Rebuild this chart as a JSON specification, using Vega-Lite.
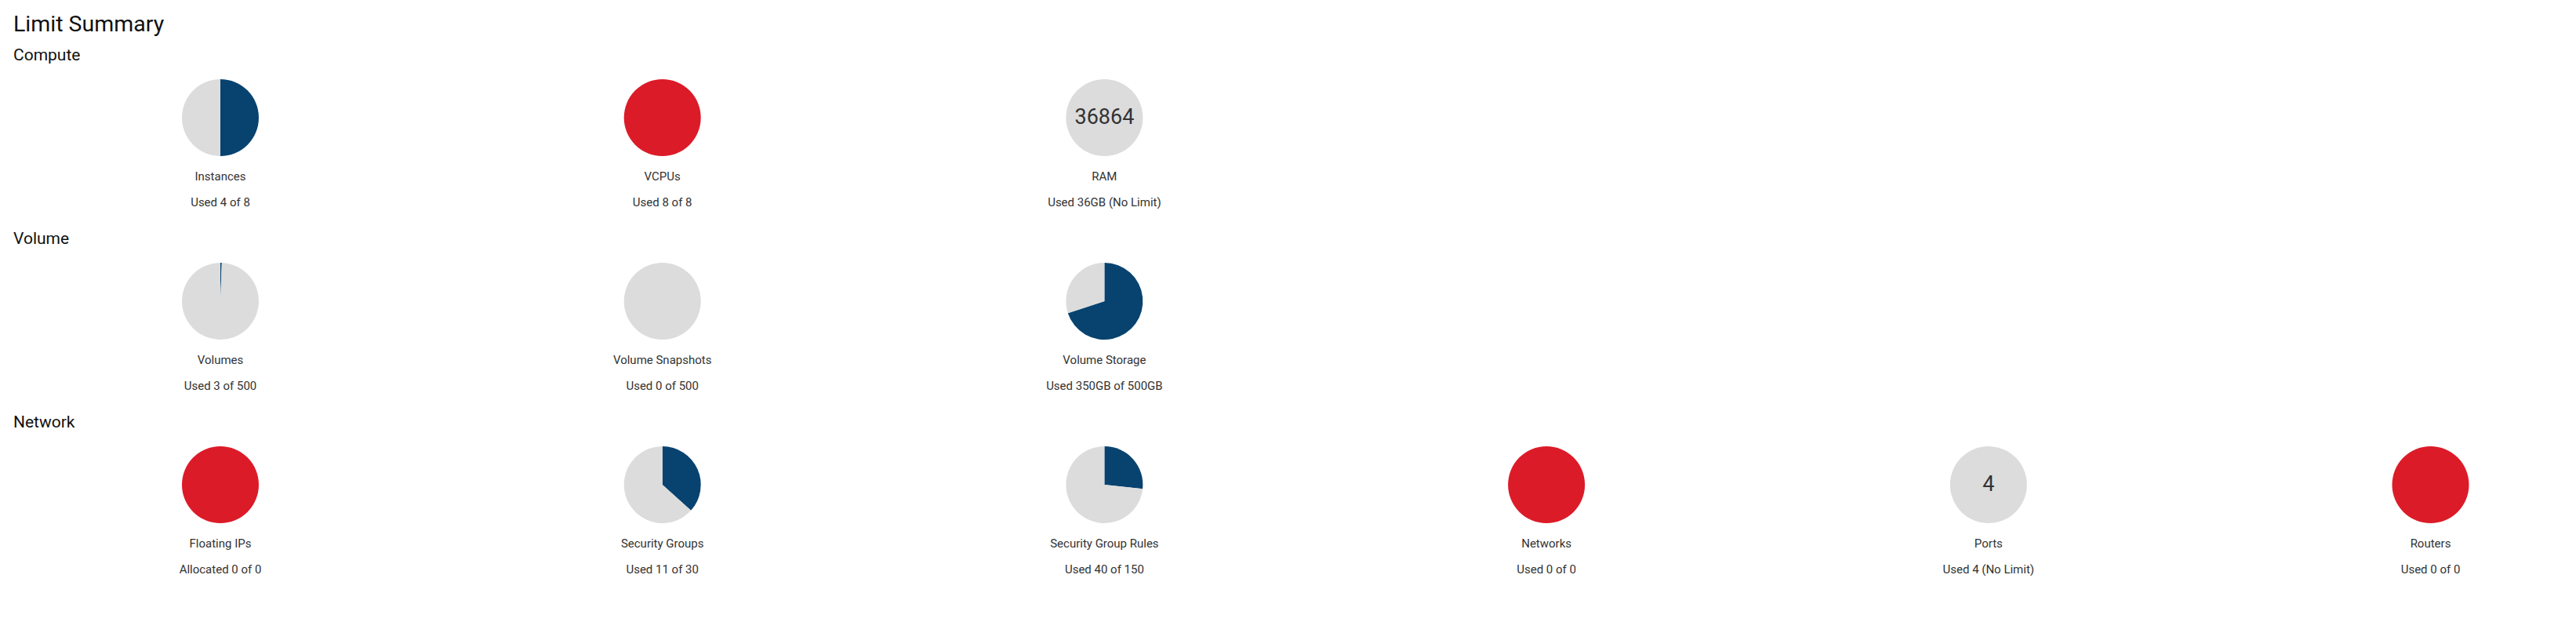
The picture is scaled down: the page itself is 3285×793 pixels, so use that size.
{
  "$schema": "https://vega.github.io/schema/vega-lite/v6.json",
  "background": "white",
  "padding": {"left": 17, "top": 16, "right": 0, "bottom": 0},
  "title": {"text": "Limit Summary", "anchor": "start", "frame": "bounds", "font": "Roboto", "fontSize": 28.5, "fontWeight": "normal", "color": "#111111", "offset": 15},
  "config": {"view": {"stroke": null}, "font": "Roboto", "concat": {"spacing": 28}},
  "datasets": {
    "slices": [
      {"section": "Compute", "item": "Instances", "slice": "Used", "share": 0.5},
      {"section": "Compute", "item": "Instances", "slice": "Free", "share": 0.5},
      {"section": "Compute", "item": "VCPUs", "slice": "Full", "share": 1},
      {"section": "Compute", "item": "RAM", "slice": "Free", "share": 1},
      {"section": "Volume", "item": "Volumes", "slice": "Used", "share": 0.006},
      {"section": "Volume", "item": "Volumes", "slice": "Free", "share": 0.994},
      {"section": "Volume", "item": "Volume Snapshots", "slice": "Free", "share": 1},
      {"section": "Volume", "item": "Volume Storage", "slice": "Used", "share": 0.7},
      {"section": "Volume", "item": "Volume Storage", "slice": "Free", "share": 0.3},
      {"section": "Network", "item": "Floating IPs", "slice": "Full", "share": 1},
      {"section": "Network", "item": "Security Groups", "slice": "Used", "share": 0.3667},
      {"section": "Network", "item": "Security Groups", "slice": "Free", "share": 0.6333},
      {"section": "Network", "item": "Security Group Rules", "slice": "Used", "share": 0.2667},
      {"section": "Network", "item": "Security Group Rules", "slice": "Free", "share": 0.7333},
      {"section": "Network", "item": "Networks", "slice": "Full", "share": 1},
      {"section": "Network", "item": "Ports", "slice": "Free", "share": 1},
      {"section": "Network", "item": "Routers", "slice": "Full", "share": 1}
    ],
    "items": [
      {"section": "Compute", "item": "Instances", "caption": "Used 4 of 8", "center": ""},
      {"section": "Compute", "item": "VCPUs", "caption": "Used 8 of 8", "center": ""},
      {"section": "Compute", "item": "RAM", "caption": "Used 36GB (No Limit)", "center": "36864"},
      {"section": "Volume", "item": "Volumes", "caption": "Used 3 of 500", "center": ""},
      {"section": "Volume", "item": "Volume Snapshots", "caption": "Used 0 of 500", "center": ""},
      {"section": "Volume", "item": "Volume Storage", "caption": "Used 350GB of 500GB", "center": ""},
      {"section": "Network", "item": "Floating IPs", "caption": "Allocated 0 of 0", "center": ""},
      {"section": "Network", "item": "Security Groups", "caption": "Used 11 of 30", "center": ""},
      {"section": "Network", "item": "Security Group Rules", "caption": "Used 40 of 150", "center": ""},
      {"section": "Network", "item": "Networks", "caption": "Used 0 of 0", "center": ""},
      {"section": "Network", "item": "Ports", "caption": "Used 4 (No Limit)", "center": "4"},
      {"section": "Network", "item": "Routers", "caption": "Used 0 of 0", "center": ""}
    ]
  },
  "vconcat": [
    {
      "title": {"text": "Compute", "anchor": "start", "frame": "group", "dx": -164, "font": "Roboto", "fontSize": 21, "fontWeight": "normal", "color": "#111111", "offset": 4},
      "width": {"step": 563.7},
      "height": 130,
      "encoding": {"x": {"field": "item", "type": "nominal", "sort": ["Instances", "VCPUs", "RAM"], "scale": {"type": "point", "padding": 0.1774}, "axis": null}},
      "layer": [
        {
          "data": {"name": "slices"},
          "transform": [
            {"filter": "datum.section === 'Compute'"},
            {"stack": "share", "groupby": ["item"], "sort": [{"field": "slice", "order": "descending"}], "as": ["s0", "s1"]}
          ],
          "mark": {"type": "arc", "outerRadius": 49},
          "encoding": {
            "theta": {"field": "s0", "type": "quantitative", "scale": {"domain": [0, 1]}},
            "theta2": {"field": "s1"},
            "color": {"field": "slice", "type": "nominal", "scale": {"domain": ["Used", "Free", "Full"], "range": ["#084370", "#dcdcdc", "#dc1b28"]}, "legend": null}
          }
        },
        {
          "data": {"name": "items"},
          "transform": [{"filter": "datum.section === 'Compute'"}],
          "mark": {"type": "text", "dy": 75, "fontSize": 15, "color": "#333333", "font": "Roboto"},
          "encoding": {"text": {"field": "item"}}
        },
        {
          "data": {"name": "items"},
          "transform": [{"filter": "datum.section === 'Compute'"}],
          "mark": {"type": "text", "dy": 108, "fontSize": 15, "color": "#333333", "font": "Roboto"},
          "encoding": {"text": {"field": "caption"}}
        },
        {
          "data": {"name": "items"},
          "transform": [{"filter": "datum.section === 'Compute' && datum.center !== ''"}],
          "mark": {"type": "text", "fontSize": 27, "color": "#333333", "font": "Roboto"},
          "encoding": {"text": {"field": "center"}}
        }
      ]
    },
    {
      "title": {"text": "Volume", "anchor": "start", "frame": "group", "dx": -164, "font": "Roboto", "fontSize": 21, "fontWeight": "normal", "color": "#111111", "offset": 4},
      "width": {"step": 563.7},
      "height": 130,
      "encoding": {"x": {"field": "item", "type": "nominal", "sort": ["Volumes", "Volume Snapshots", "Volume Storage"], "scale": {"type": "point", "padding": 0.1774}, "axis": null}},
      "layer": [
        {
          "data": {"name": "slices"},
          "transform": [
            {"filter": "datum.section === 'Volume'"},
            {"stack": "share", "groupby": ["item"], "sort": [{"field": "slice", "order": "descending"}], "as": ["s0", "s1"]}
          ],
          "mark": {"type": "arc", "outerRadius": 49},
          "encoding": {
            "theta": {"field": "s0", "type": "quantitative", "scale": {"domain": [0, 1]}},
            "theta2": {"field": "s1"},
            "color": {"field": "slice", "type": "nominal", "scale": {"domain": ["Used", "Free", "Full"], "range": ["#084370", "#dcdcdc", "#dc1b28"]}, "legend": null}
          }
        },
        {
          "data": {"name": "items"},
          "transform": [{"filter": "datum.section === 'Volume'"}],
          "mark": {"type": "text", "dy": 75, "fontSize": 15, "color": "#333333", "font": "Roboto"},
          "encoding": {"text": {"field": "item"}}
        },
        {
          "data": {"name": "items"},
          "transform": [{"filter": "datum.section === 'Volume'"}],
          "mark": {"type": "text", "dy": 108, "fontSize": 15, "color": "#333333", "font": "Roboto"},
          "encoding": {"text": {"field": "caption"}}
        }
      ]
    },
    {
      "title": {"text": "Network", "anchor": "start", "frame": "group", "dx": -164, "font": "Roboto", "fontSize": 21, "fontWeight": "normal", "color": "#111111", "offset": 4},
      "width": {"step": 563.7},
      "height": 130,
      "encoding": {"x": {"field": "item", "type": "nominal", "sort": ["Floating IPs", "Security Groups", "Security Group Rules", "Networks", "Ports", "Routers"], "scale": {"type": "point", "padding": 0.1774}, "axis": null}},
      "layer": [
        {
          "data": {"name": "slices"},
          "transform": [
            {"filter": "datum.section === 'Network'"},
            {"stack": "share", "groupby": ["item"], "sort": [{"field": "slice", "order": "descending"}], "as": ["s0", "s1"]}
          ],
          "mark": {"type": "arc", "outerRadius": 49},
          "encoding": {
            "theta": {"field": "s0", "type": "quantitative", "scale": {"domain": [0, 1]}},
            "theta2": {"field": "s1"},
            "color": {"field": "slice", "type": "nominal", "scale": {"domain": ["Used", "Free", "Full"], "range": ["#084370", "#dcdcdc", "#dc1b28"]}, "legend": null}
          }
        },
        {
          "data": {"name": "items"},
          "transform": [{"filter": "datum.section === 'Network'"}],
          "mark": {"type": "text", "dy": 75, "fontSize": 15, "color": "#333333", "font": "Roboto"},
          "encoding": {"text": {"field": "item"}}
        },
        {
          "data": {"name": "items"},
          "transform": [{"filter": "datum.section === 'Network'"}],
          "mark": {"type": "text", "dy": 108, "fontSize": 15, "color": "#333333", "font": "Roboto"},
          "encoding": {"text": {"field": "caption"}}
        },
        {
          "data": {"name": "items"},
          "transform": [{"filter": "datum.section === 'Network' && datum.center !== ''"}],
          "mark": {"type": "text", "fontSize": 27, "color": "#333333", "font": "Roboto"},
          "encoding": {"text": {"field": "center"}}
        }
      ]
    }
  ]
}
